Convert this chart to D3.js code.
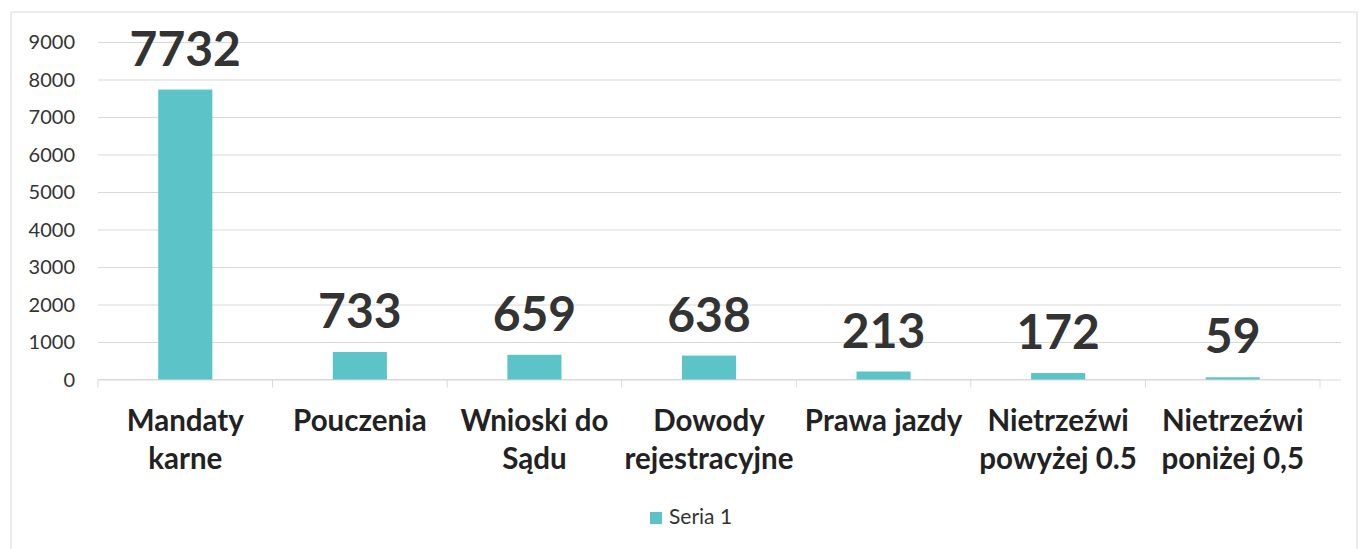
<!DOCTYPE html>
<html>
<head>
<meta charset="utf-8">
<script src="https://cdn.jsdelivr.net/npm/d3@7"></script>
<style>
  body { margin: 0; background: #fff; }
  svg { display: block; font-family: Lato, "Open Sans", sans-serif; }
  .grid line { stroke: #d9d9d9; }
  .grid path { display: none; }
</style>
</head>
<body>
<svg width="1359" height="549"></svg>
<script>
// chart values
var categories = ["Mandaty karne", "Pouczenia", "Wnioski do Sądu", "Dowody rejestracyjne",
                  "Prawa jazdy", "Nietrzeźwi powyżej 0.5", "Nietrzeźwi poniżej 0,5"];
// how each category label breaks over lines
var categoryLines = [["Mandaty", "karne"], ["Pouczenia"], ["Wnioski do", "Sądu"],
                     ["Dowody", "rejestracyjne"], ["Prawa jazdy"],
                     ["Nietrzeźwi", "powyżej 0.5"], ["Nietrzeźwi", "poniżej 0,5"]];
var values = [7732, 733, 659, 638, 213, 172, 59];
var yTicks = [0, 1000, 2000, 3000, 4000, 5000, 6000, 7000, 8000, 9000];
var seriesName = "Seria 1";

var svg = d3.select("svg");

// outer chart border
svg.append("rect")
  .attr("x", 11).attr("y", 12)
  .attr("width", 1346).attr("height", 560)
  .attr("fill", "none").attr("stroke", "#d9d9d9");

var plotLeft = 98, plotRight = 1320, gridRight = 1341;
var plotTop = 42, plotBottom = 379.5;

var x = d3.scaleBand()
  .domain(categories)
  .range([plotLeft, plotRight])
  .paddingInner(0.69)
  .paddingOuter(0.345);

var y = d3.scaleLinear()
  .domain([0, 9000])
  .range([plotBottom, plotTop]);

// horizontal gridlines
svg.append("g")
  .attr("class", "grid")
  .attr("transform", "translate(" + plotLeft + ",0)")
  .call(d3.axisLeft(y).tickValues(yTicks).tickSize(-(gridRight - plotLeft)).tickFormat(""));

// y tick labels
svg.append("g")
  .selectAll("text")
  .data(yTicks)
  .enter().append("text")
  .attr("x", 75)
  .attr("y", function(d) { return y(d); })
  .attr("dy", "0.35em")
  .attr("text-anchor", "end")
  .attr("font-size", 20)
  .attr("fill", "#333")
  .text(function(d) { return d; });

// x axis line with tick marks between categories
var xAxis = svg.append("g");
xAxis.append("line")
  .attr("x1", plotLeft).attr("x2", plotRight)
  .attr("y1", plotBottom).attr("y2", plotBottom)
  .attr("stroke", "#d9d9d9");
var bounds = categories.map(function(c) { return x(c) - x.step() * x.paddingInner() / 2; });
bounds.push(plotRight);
xAxis.selectAll("line.tick")
  .data(bounds)
  .enter().append("line")
  .attr("class", "tick")
  .attr("x1", function(d) { return d; }).attr("x2", function(d) { return d; })
  .attr("y1", plotBottom).attr("y2", plotBottom + 8)
  .attr("stroke", "#d9d9d9");

// bars
svg.append("g")
  .selectAll("rect")
  .data(values)
  .enter().append("rect")
  .attr("x", function(d, i) { return x(categories[i]); })
  .attr("width", x.bandwidth())
  .attr("y", function(d) { return y(d); })
  .attr("height", function(d) { return plotBottom - y(d); })
  .attr("fill", "#5cc4c9");

// value labels
svg.append("g")
  .selectAll("text")
  .data(values)
  .enter().append("text")
  .attr("x", function(d, i) { return x(categories[i]) + x.bandwidth() / 2; })
  .attr("y", function(d) { return y(d) - 24; })
  .attr("text-anchor", "middle")
  .attr("font-size", 48)
  .attr("font-weight", "bold")
  .attr("fill", "#333")
  .text(function(d) { return d; });

// category labels
var catLabels = svg.append("g")
  .selectAll("text")
  .data(categoryLines)
  .enter().append("text")
  .attr("text-anchor", "middle")
  .attr("font-size", 29.5)
  .attr("font-weight", "bold")
  .attr("fill", "#222")
  .attr("transform", function(d, i) {
    return "translate(" + (x(categories[i]) + x.bandwidth() / 2) + ",431)";
  });
catLabels.selectAll("tspan")
  .data(function(d) { return d; })
  .enter().append("tspan")
  .attr("x", 0)
  .attr("y", function(d, i) { return i * 38; })
  .text(function(d) { return d; });

// legend
var legend = svg.append("g").attr("transform", "translate(650,512)");
legend.append("rect")
  .attr("width", 12).attr("height", 12)
  .attr("fill", "#5cc4c9");
legend.append("text")
  .attr("x", 19).attr("y", 12)
  .attr("font-size", 21)
  .attr("fill", "#333")
  .text(seriesName);
</script>
</body>
</html>
